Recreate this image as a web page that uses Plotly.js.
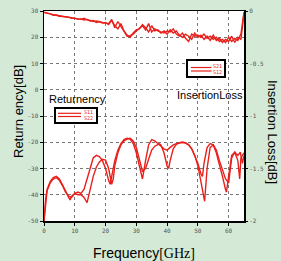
<!DOCTYPE html>
<html><head><meta charset="utf-8">
<script src="https://cdn.plot.ly/plotly-3.0.1.min.js"></script>
<style>html,body{margin:0;padding:0;background:#d4ead6;}#chart{width:281px;height:261px;}</style>
</head><body><div id="chart"></div>
<script>
// Return loss (left axis, dB)
const s11Freq = [0,0.5,1,2,3,4,5,6,7,8,8.5,9,10,11,12,13,14,15,16,17,18,19,20,21,21.5,22,23,24,25,26,27,28,29,30,31,32,33,34,35,36,37,38,39,40,41,42,43,44,45,46,47,48,49,50,51,51.5,52,53,54,55,56,57,58,59,59.3,60,61,62,63,63.6,64,65];
const s11Val  = [-50,-42,-38,-35,-33.5,-33,-34,-36,-38.5,-41,-42,-40.5,-39.5,-39,-39.5,-38,-34,-29,-26,-25,-25.5,-27,-30,-34.5,-36,-33,-27,-23,-20.5,-19,-18.5,-18.8,-20.5,-24,-29,-34,-27,-21,-19,-19.5,-20.5,-21.5,-22.5,-23,-22,-21,-20.5,-20.2,-20,-20.2,-21,-22.5,-25,-28,-32,-33,-28,-22,-20.5,-21,-24,-28,-33,-38,-39,-33,-25,-23.8,-27,-34,-26,-24];
const s22Freq = [0,0.5,1,2,3,4,5,6,7,8,9,10,11,12,13,14,15,16,17,18,19,20,21,22,22.5,23,24,25,26,27,28,29,30,31,32,33,34,35,36,37,37.5,38,39,40,40.5,41,42,43,44,45,46,47,48,49,50,51,52,52.2,53,54,55,56,57,58,59,60,61,62,63,63.8,64.5,65];
const s22Val  = [-50,-43,-38.5,-35.5,-34,-33.5,-34.5,-36.5,-39,-40.5,-41,-39.5,-40,-40,-41,-43,-38,-33,-29.5,-27.5,-26.5,-26.8,-30,-36,-34,-29,-24,-21,-19.5,-18.8,-18.5,-19.5,-22,-26,-31,-30,-26,-23,-21.5,-20.8,-20.6,-21,-24,-29,-30,-27,-22.5,-20.8,-20.2,-20,-20.3,-21,-22.5,-25,-29,-35,-41,-42.5,-30,-22,-21,-23,-27,-31,-34,-35.5,-26,-23.8,-25,-23.8,-28,-25];
// Insertion loss (right axis, dB)
const ilFreq = [0,1,2,3,4,5,6,7,8,9,10,11,12,13,14,15,16,17,18,19,20,21,22,23,24,25,26,27,28,29,30,31,32,33,34,35,36,37,38,39,40,41,42,43,44,45,46,47,48,49,50,51,52,53,54,55,56,57,58,59,60,61,62,63,64,64.5,65];
const s21Val = [-0.01,-0.02,-0.03,-0.035,-0.04,-0.045,-0.05,-0.055,-0.06,-0.065,-0.07,-0.075,-0.08,-0.07,-0.085,-0.09,-0.1,-0.095,-0.105,-0.11,-0.115,-0.12,-0.08,-0.16,-0.1,-0.15,-0.2,-0.24,-0.235,-0.22,-0.19,-0.165,-0.14,-0.18,-0.12,-0.2,-0.17,-0.19,-0.2,-0.21,-0.19,-0.2,-0.17,-0.22,-0.24,-0.21,-0.26,-0.29,-0.22,-0.24,-0.23,-0.25,-0.22,-0.26,-0.24,-0.27,-0.25,-0.29,-0.27,-0.3,-0.25,-0.29,-0.26,-0.28,-0.22,-0.12,-0.01];
const s12Val = [-0.015,-0.02,-0.028,-0.04,-0.038,-0.05,-0.052,-0.06,-0.058,-0.07,-0.068,-0.08,-0.075,-0.085,-0.08,-0.095,-0.09,-0.11,-0.1,-0.115,-0.11,-0.13,-0.09,-0.14,-0.17,-0.12,-0.19,-0.23,-0.25,-0.21,-0.18,-0.17,-0.13,-0.16,-0.2,-0.14,-0.19,-0.18,-0.21,-0.19,-0.22,-0.18,-0.21,-0.19,-0.23,-0.25,-0.22,-0.24,-0.27,-0.21,-0.25,-0.23,-0.27,-0.24,-0.28,-0.23,-0.28,-0.26,-0.3,-0.27,-0.29,-0.24,-0.3,-0.25,-0.27,-0.15,-0.02];

const leftTicks = [30,20,10,0,-10,-20,-30,-40,-50];
const rightTicks = [0,-0.5,-1,-1.5,-2];
const xTicks = [0,10,20,30,40,50,60];

const red = 'rgb(232,32,28)';
const lineStyle = {color: red, width: 1.4};
const traces = [
  {x: s11Freq, y: s11Val, name: 'S11', mode: 'lines', line: lineStyle, yaxis: 'y'},
  {x: s22Freq, y: s22Val, name: 'S22', mode: 'lines', line: lineStyle, yaxis: 'y'},
  {x: ilFreq, y: s21Val, name: 'S21', mode: 'lines', line: lineStyle, yaxis: 'y2'},
  {x: ilFreq, y: s12Val, name: 'S12', mode: 'lines', line: lineStyle, yaxis: 'y2'}
];
const tickFont = {family: 'DejaVu Sans Mono', size: 6, color: '#555'};
const px = v => (v - 44) / 200;
const py = v => (221 - v) / 210;
const ann = (x, y, text, font, extra) => Object.assign({xref: 'paper', yref: 'paper', x: px(x), y: py(y), text: text,
  showarrow: false, xanchor: 'center', yanchor: 'middle', font: font}, extra || {});
const tinyRed = {family: 'DejaVu Sans Mono', size: 5, color: red};
const narrow = {family: 'Liberation Sans Narrow, Liberation Sans', size: 11, color: '#000'};
const titleFont = {family: 'Liberation Sans', size: 13, color: '#000'};
const layout = {
  width: 281, height: 261,
  margin: {l: 44, r: 37, t: 11, b: 40},
  paper_bgcolor: '#d4ead6', plot_bgcolor: '#ffffff',
  showlegend: false,
  xaxis: {range: [0, 65], tickvals: xTicks, ticktext: xTicks.map(String), tickfont: tickFont,
    showline: true, mirror: true, linecolor: '#000', linewidth: 1.5,
    ticks: 'outside', ticklen: 3, tickcolor: '#000',
    showgrid: true, gridcolor: '#777', griddash: 'dot', gridwidth: 1, zeroline: false},
  yaxis: {range: [-50, 30], tickvals: leftTicks, ticktext: leftTicks.map(String), tickfont: tickFont,
    showline: true, mirror: true, linecolor: '#000', linewidth: 1.5,
    ticks: 'outside', ticklen: 3, tickcolor: '#000',
    showgrid: true, gridcolor: '#777', griddash: 'dot', gridwidth: 1, zeroline: false},
  yaxis2: {range: [-2, 0], overlaying: 'y', side: 'right', tickvals: rightTicks,
    ticktext: rightTicks.map(String), tickfont: tickFont, showgrid: false, zeroline: false,
    ticks: 'outside', ticklen: 3, tickcolor: '#000', showline: false},
  shapes: [
    {type: 'rect', xref: 'paper', yref: 'paper', x0: px(55), x1: px(97), y0: py(123), y1: py(108),
      line: {color: '#000', width: 2}, fillcolor: '#fff'},
    {type: 'line', xref: 'paper', yref: 'paper', x0: px(58), x1: px(81), y0: py(113.3), y1: py(113.3), line: {color: red, width: 1.2}},
    {type: 'line', xref: 'paper', yref: 'paper', x0: px(58), x1: px(81), y0: py(116.5), y1: py(116.5), line: {color: red, width: 1.2}},
    {type: 'rect', xref: 'paper', yref: 'paper', x0: px(187), x1: px(225), y0: py(77), y1: py(60),
      line: {color: '#000', width: 2}, fillcolor: '#fff'},
    {type: 'line', xref: 'paper', yref: 'paper', x0: px(191), x1: px(211.5), y0: py(67.5), y1: py(67.5), line: {color: red, width: 1.2}},
    {type: 'line', xref: 'paper', yref: 'paper', x0: px(191), x1: px(211.5), y0: py(71), y1: py(71), line: {color: red, width: 1.2}}
  ],
  annotations: [
    ann(88, 112.5, 'S11', tinyRed),
    ann(88, 117.5, 'S22', tinyRed),
    ann(217, 66.5, 'S21', tinyRed),
    ann(217, 72, 'S12', tinyRed),
    ann(77, 99, 'Returnency', narrow),
    ann(210, 95, 'InsertionLoss', narrow),
    ann(19, 112, 'Return ency[dB]', titleFont, {textangle: -90}),
    ann(273, 132, 'Insertion Loss[dB]', titleFont, {textangle: 90}),
    ann(144, 253, 'Frequency<span style="font-family:Liberation Serif">[GHz]</span>', {family: 'Liberation Sans', size: 14, color: '#000'})
  ]
};
Plotly.newPlot('chart', traces, layout, {displayModeBar: false, staticPlot: true});
</script></body></html>
